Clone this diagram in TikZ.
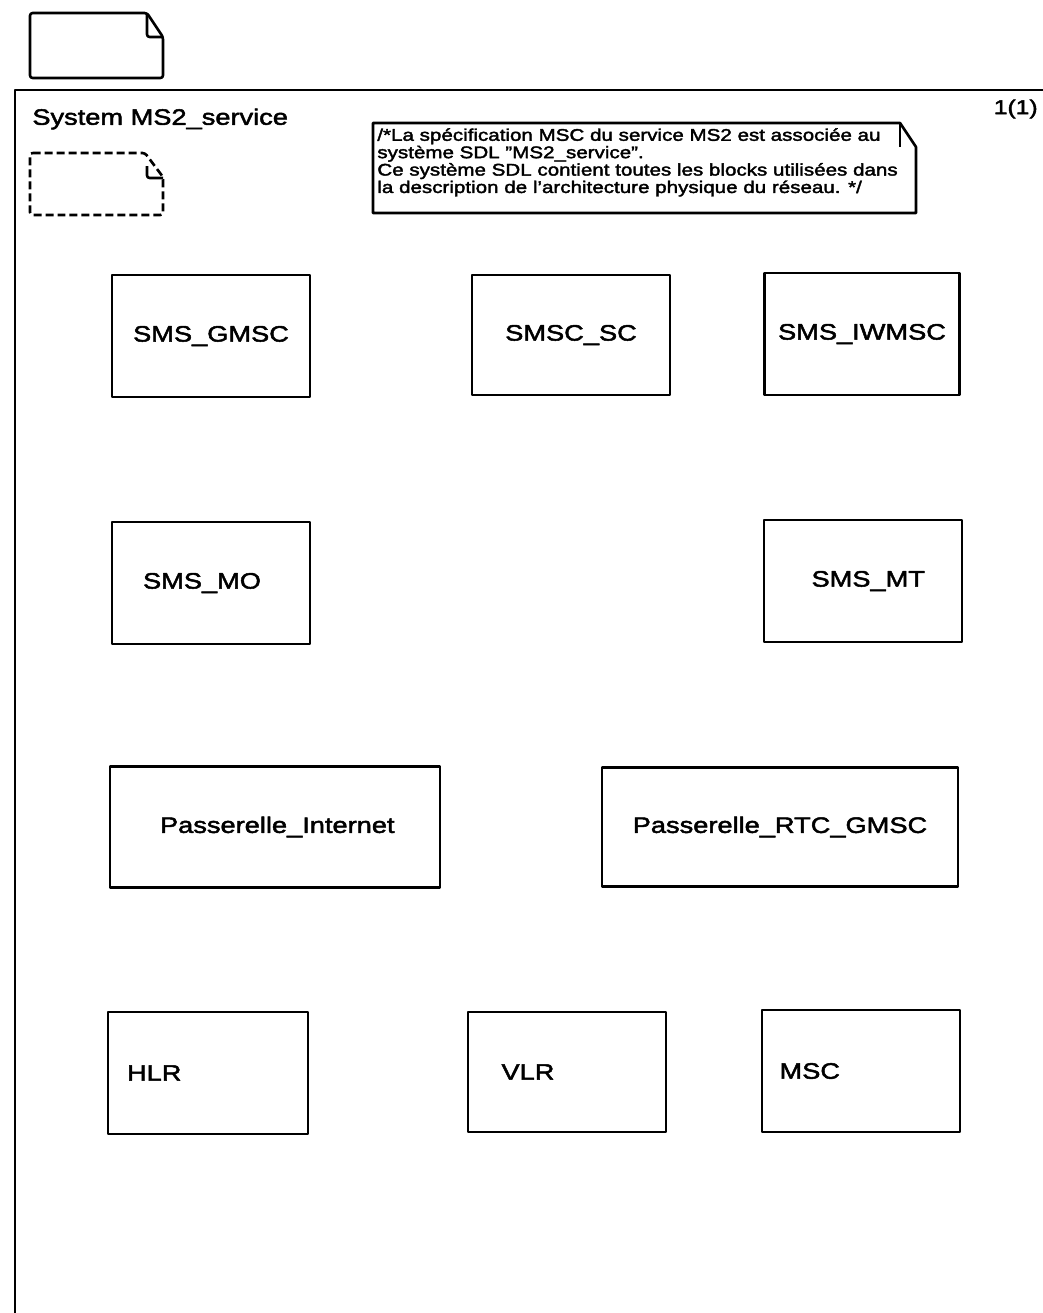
\documentclass[tikz,border=0pt]{standalone}
\usepackage{fontspec}
\setmainfont{Liberation Sans}[FakeStretch=1.22, FakeBold=2.2]
\usetikzlibrary{positioning}

\begin{document}
\begin{tikzpicture}[x=0.02cm, y=-0.02cm, line join=round,
    blk/.style={draw, line width=1.5pt, minimum width=3.96cm,
                minimum height=2.44cm, font=\fontsize{12.7}{15}\selectfont},
    leftblk/.style={blk, align=left},
    doc/.style={line width=1.5pt, rounded corners=1.5pt}]
  \useasboundingbox (0,0) rectangle (1043,1313);

  % Page symbol
  \draw[doc] (30,13) -- (147,13) -- (163,37) -- (163,78) -- (30,78) -- cycle;
  \draw[doc] (147,13) -- (147,37) -- (163,37);

  % Frame
  \draw[line width=1.4pt] (1043,90) -- (15,90) -- (15,1313);
  \node[anchor=west, inner sep=0pt, font=\fontsize{12.7}{15}\selectfont]
       (title) at (32,119) {System MS2\_service};
  \node[anchor=east, inner sep=0pt, font=\fontsize{11.5}{13}\selectfont]
       (page) at (1038,109) {1(1)};

  % Dashed symbol
  \draw[doc, dash pattern=on 0.16cm off 0.08cm]
       (30,153) -- (145,153) -- (163,177) -- (163,215) -- (30,215) -- cycle;
  \draw[doc] (147,166) -- (147,178) -- (163,178);

  % Comment
  \draw[line width=1.5pt] (373,123) -- (900,123) -- (916,147) -- (916,213)
       -- (373,213) -- cycle;
  \draw[line width=1.5pt] (900,123) -- (900,147);
  \node[anchor=north west, inner sep=0pt, align=left,
        font=\fontsize{9.6}{9.9}\selectfont] (note) at (377,128)
       {/*La spécification MSC du service MS2 est associée au\\
        système SDL "MS2\_service".\\
        Ce système SDL contient toutes les blocks utilisées dans\\
        la description de l'architecture physique du réseau. */};

  % Blocks
  \node[blk] (gmsc)   at (211,336) {SMS\_GMSC};
  \node[blk, minimum height=2.4cm] (smscsc) at (571,335) {SMSC\_SC};
  \node[blk, minimum width=3.9cm] (iwmsc)  at (862,334) {SMS\_IWMSC};

  \node[leftblk, inner xsep=0.62cm, text width=2.72cm] (mo) at (211,583) {SMS\_MO};
  \node[leftblk, inner xsep=0.94cm, text width=2.06cm] (mt) at (863,581) {SMS\_MT};

  \node[leftblk, inner xsep=1cm, text width=4.6cm, minimum height=2.42cm]
       (inet) at (275,827) {Passerelle\_Internet};
  \node[blk, minimum width=7.12cm, minimum height=2.38cm]
       (rtc)  at (780,827) {Passerelle\_RTC\_GMSC};

  \node[leftblk, inner xsep=0.38cm, text width=3.24cm] (hlr) at (208,1073) {HLR};
  \node[leftblk, inner xsep=0.64cm, text width=2.62cm, minimum height=2.4cm]
       (vlr) at (567,1072) {VLR};
  \node[leftblk, inner xsep=0.34cm, text width=3.26cm] (msc) at (861,1071) {MSC};
\end{tikzpicture}
\end{document}
